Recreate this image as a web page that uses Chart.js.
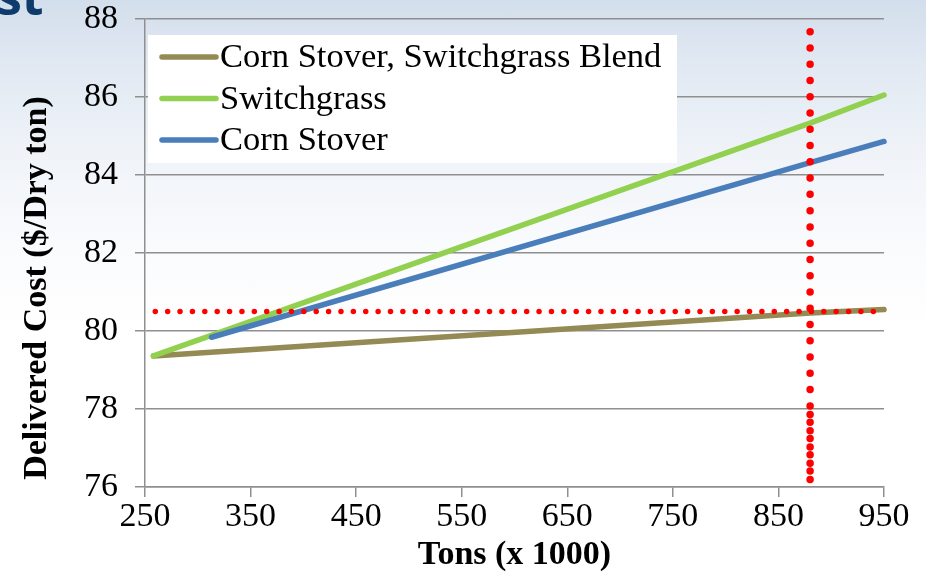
<!DOCTYPE html>
<html>
<head>
<meta charset="utf-8">
<script src="https://cdn.jsdelivr.net/npm/chart.js@4.4.0/dist/chart.umd.min.js"></script>
<style>
  html, body { margin: 0; padding: 0; }
  body {
    width: 926px; height: 576px; overflow: hidden; position: relative;
    background: linear-gradient(180deg, #d3deec 0px, #e0e8f2 60px, #eff3f8 150px, #fafbfd 250px, #ffffff 330px, #ffffff 100%);
  }
  canvas { position: absolute; left: 0; top: 0; }
</style>
</head>
<body>
<canvas id="cost" width="926" height="576"></canvas>
<script>
// Axis ticks
const tonsTicks = [250, 350, 450, 550, 650, 750, 850, 950];
const costTicks = [76, 78, 80, 82, 84, 86, 88];

// Delivered cost curves ($/dry ton) against tons (x 1000)
const blendTons  = [258, 880, 950];
const blendCost  = [79.36, 80.46, 80.55];
const switchTons = [258, 880, 950];
const switchCost = [79.36, 85.33, 86.05];
const stoverTons = [313, 880, 950];
const stoverCost = [79.84, 84.32, 84.86];

// Target supply and cost reference lines
const targetTons = 880;
const targetCost = 80.5;
const denseFrom = 78;

const seriesNames  = ['Corn Stover, Switchgrass Blend', 'Switchgrass', 'Corn Stover'];
const seriesColors = ['#948a54', '#92d050', '#4a7ebb'];

const pts = (xs, ys) => xs.map((x, i) => ({ x, y: ys[i] }));

const SERIF = '"Liberation Serif", "Times New Roman", serif';
const GRID = '#8f8f8f';

const seriesStyle = (i) => ({
  label: seriesNames[i],
  borderColor: seriesColors[i],
  backgroundColor: seriesColors[i],
  borderWidth: 5.5,
  borderCapStyle: 'round',
  pointRadius: 0,
  showLine: true,
  clip: false,
  inLegend: true
});

const dotted = (data, width, gap, offset) => ({
  data,
  borderColor: '#ff0000',
  borderWidth: width,
  borderDash: [0, gap],
  borderDashOffset: offset,
  borderCapStyle: 'round',
  pointRadius: 0,
  showLine: true
});

// Legend box drawn inside the plot, top-left
const boxLegend = {
  id: 'boxLegend',
  afterDatasetsDraw(chart) {
    const ctx = chart.ctx;
    const items = chart.data.datasets.filter(d => d.inLegend)
      .sort((a, b) => seriesNames.indexOf(a.label) - seriesNames.indexOf(b.label));
    ctx.save();
    ctx.fillStyle = '#ffffff';
    ctx.fillRect(148, 35, 529, 128);
    ctx.font = '34.5px ' + SERIF;
    ctx.textBaseline = 'middle';
    ctx.textAlign = 'left';
    items.forEach((d, i) => {
      const y = 57 + i * 41.5;
      ctx.strokeStyle = d.borderColor;
      ctx.lineWidth = 5.5;
      ctx.lineCap = 'round';
      ctx.beginPath();
      ctx.moveTo(162, y);
      ctx.lineTo(216, y);
      ctx.stroke();
      ctx.fillStyle = '#000000';
      ctx.fillText(d.label, 220, y + 1);
    });
    ctx.restore();
  }
};

// Slide heading fragment and rotated y-axis title
const decorations = {
  id: 'decorations',
  beforeDraw(chart) {
    const ctx = chart.ctx;
    ctx.save();
    ctx.fillStyle = '#0e3b6b';
    ctx.font = 'bold 50px "Open Sans", sans-serif';
    ctx.textBaseline = 'alphabetic';
    ctx.fillText('st', -3, 15);
    ctx.restore();
  },
  afterDraw(chart) {
    const ctx = chart.ctx;
    ctx.save();
    ctx.translate(46, 288);
    ctx.rotate(-Math.PI / 2);
    ctx.font = 'bold 34px ' + SERIF;
    ctx.fillStyle = '#000000';
    ctx.textAlign = 'center';
    ctx.textBaseline = 'alphabetic';
    ctx.fillText('Delivered Cost ($/Dry ton)', 0, 0);
    ctx.restore();
  }
};

new Chart(document.getElementById('cost'), {
  type: 'scatter',
  data: {
    datasets: [
      dotted([{ x: targetTons, y: costTicks[costTicks.length - 1] }, { x: targetTons, y: costTicks[0] }], 7.5, 16.27, 3.6),
      dotted([{ x: targetTons, y: denseFrom }, { x: targetTons, y: costTicks[0] }], 7.5, 16.27, 10.8),
      dotted([{ x: tonsTicks[0], y: targetCost }, { x: tonsTicks[tonsTicks.length - 1], y: targetCost }], 5.5, 12.38, 2.1),
      Object.assign({ data: pts(stoverTons, stoverCost) }, seriesStyle(2)),
      Object.assign({ data: pts(switchTons, switchCost) }, seriesStyle(1)),
      Object.assign({ data: pts(blendTons, blendCost) }, seriesStyle(0))
    ]
  },
  options: {
    responsive: false,
    devicePixelRatio: 1,
    animation: false,
    layout: { padding: { top: 19, right: 42, bottom: 0, left: 0 } },
    plugins: {
      legend: { display: false },
      tooltip: { enabled: false }
    },
    scales: {
      x: {
        type: 'linear',
        min: tonsTicks[0],
        max: tonsTicks[tonsTicks.length - 1],
        afterBuildTicks: (s) => { s.ticks = tonsTicks.map(v => ({ value: v })); },
        ticks: { color: '#000', font: { family: SERIF, size: 34 }, padding: 0, maxRotation: 0 },
        grid: { drawOnChartArea: false, drawTicks: true, tickLength: 10, color: GRID, lineWidth: 1.5 },
        border: { display: true, color: GRID, width: 1.5 },
        title: {
          display: true, text: 'Tons (x 1000)', color: '#000',
          font: { family: SERIF, size: 34, weight: 'bold' }, padding: { top: 0, bottom: 0 }
        },
        afterFit: (s) => { s.height = 89; s.paddingLeft = 0; s.paddingRight = 0; }
      },
      y: {
        type: 'linear',
        min: costTicks[0],
        max: costTicks[costTicks.length - 1],
        afterBuildTicks: (s) => { s.ticks = costTicks.map(v => ({ value: v })); },
        ticks: { color: '#000', font: { family: SERIF, size: 34 }, padding: 17 },
        grid: { drawOnChartArea: true, drawTicks: true, tickLength: 10, color: GRID, lineWidth: 1.5 },
        border: { display: true, color: GRID, width: 1.5 },
        afterFit: (s) => { s.width = 145; s.paddingTop = 0; s.paddingBottom = 0; }
      }
    }
  },
  plugins: [decorations, boxLegend]
});
</script>
</body>
</html>
